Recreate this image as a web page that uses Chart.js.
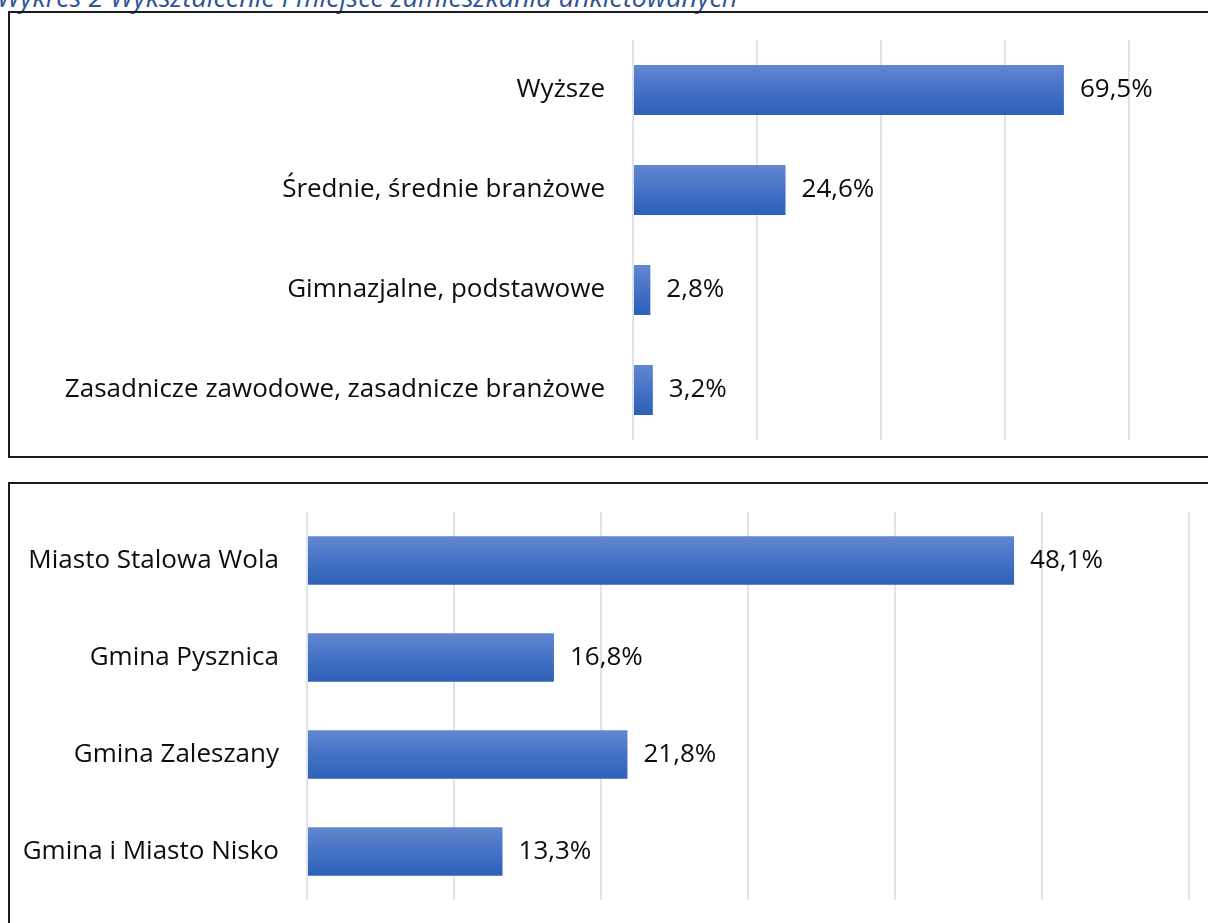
<!DOCTYPE html>
<html>
<head>
<meta charset="utf-8">
<script src="https://cdn.jsdelivr.net/npm/chart.js@4.4.1/dist/chart.umd.min.js"></script>
<style>
  html, body { margin:0; padding:0; background:#fff; width:1208px; height:923px; overflow:hidden; position:relative; }
  .title { position:absolute; left:-3px; top:-22px; font-family:'Open Sans', sans-serif; font-style:italic; font-size:27px; color:#2F5496; white-space:nowrap; }
  .box { position:absolute; border:2px solid #1a1a1a; box-sizing:border-box; }
  #box1 { left:8px; top:11px; width:1212px; height:447px; }
  #box2 { left:8px; top:482px; width:1212px; height:460px; }
  canvas { position:absolute; display:block; }
  #c1 { left:10px; top:13px; }
  #c2 { left:10px; top:484px; }
</style>
</head>
<body>
<div class="title">Wykres 2 Wykształcenie i miejsce zamieszkania ankietowanych</div>
<div class="box" id="box1"></div>
<div class="box" id="box2"></div>
<canvas id="c1" width="1198" height="443"></canvas>
<canvas id="c2" width="1198" height="439"></canvas>
<script>
const educationCategories = ["Wyższe", "Średnie, średnie branżowe", "Gimnazjalne, podstawowe", "Zasadnicze zawodowe, zasadnicze branżowe"];
const educationValues = [69.5, 24.6, 2.8, 3.2];
const residenceCategories = ["Miasto Stalowa Wola", "Gmina Pysznica", "Gmina Zaleszany", "Gmina i Miasto Nisko"];
const residenceValues = [48.1, 16.8, 21.8, 13.3];

const FONT = { family: "'Open Sans', sans-serif", size: 26 };
const TEXT_COLOR = "#0d0d0d";

function gradientFill(ctx) {
  const chart = ctx.chart;
  const y = chart.scales && chart.scales.y;
  if (!y || ctx.dataIndex === undefined || !chart.chartArea) return "#4472C4";
  const n = chart.data.labels.length;
  const c = y.getPixelForValue(ctx.dataIndex);
  const half = (y.height / n) * 0.25;
  if (!isFinite(c) || !isFinite(half) || half <= 0) return "#4472C4";
  const g = chart.ctx.createLinearGradient(0, c - half, 0, c + half);
  g.addColorStop(0, "#6387CF");
  g.addColorStop(0.5, "#4472C6");
  g.addColorStop(1, "#2D60B9");
  return g;
}

const valueLabels = {
  id: "valueLabels",
  afterDatasetsDraw(chart) {
    const ctx = chart.ctx;
    const meta = chart.getDatasetMeta(0);
    const data = chart.data.datasets[0].data;
    ctx.save();
    ctx.font = FONT.size + "px " + FONT.family;
    ctx.fillStyle = TEXT_COLOR;
    ctx.textAlign = "left";
    ctx.textBaseline = "middle";
    meta.data.forEach((bar, i) => {
      const txt = data[i].toFixed(1).replace(".", ",") + "%";
      ctx.fillText(txt, bar.x + 16, bar.y);
    });
    ctx.restore();
  }
};

function makeChart(id, labels, values, xMax, step, yWidth, padding) {
  return new Chart(document.getElementById(id), {
    type: "bar",
    data: {
      labels: labels,
      datasets: [{
        data: values,
        backgroundColor: gradientFill,
        borderWidth: 0,
        barPercentage: 0.5,
        categoryPercentage: 1.0
      }]
    },
    options: {
      indexAxis: "y",
      responsive: false,
      animation: false,
      devicePixelRatio: 1,
      layout: { padding: padding },
      plugins: { legend: { display: false }, tooltip: { enabled: false } },
      scales: {
        x: {
          min: 0, max: xMax,
          ticks: { display: false, stepSize: step },
          grid: { color: "#DFE3EB", lineWidth: 2, drawTicks: false },
          border: { display: false },
          afterFit: s => { s.height = 0; s.paddingLeft = 0; s.paddingRight = 0; s.paddingTop = 0; s.paddingBottom = 0; }
        },
        y: {
          ticks: { color: TEXT_COLOR, font: FONT, padding: 28 },
          grid: { display: false, drawTicks: false },
          border: { display: false },
          afterFit: s => { s.width = yWidth; s.paddingTop = 0; s.paddingBottom = 0; s.paddingLeft = 0; s.paddingRight = 0; }
        }
      }
    },
    plugins: [valueLabels]
  });
}

makeChart("c1", educationCategories, educationValues, 80, 20, 623, { top: 27, bottom: 16, left: 0, right: 79 });
makeChart("c2", residenceCategories, residenceValues, 60, 10, 297, { top: 28, bottom: 23, left: 0, right: 19 });
</script>
</body>
</html>
